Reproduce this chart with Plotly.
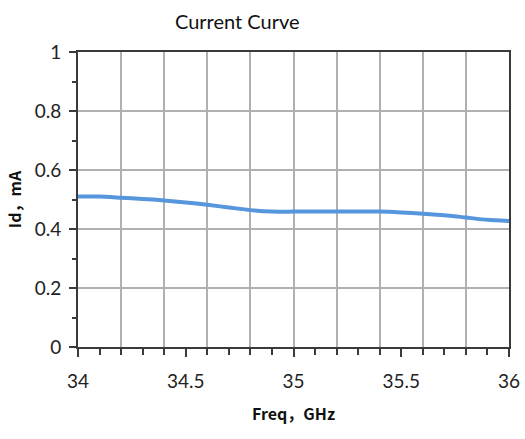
import plotly.graph_objects as go

freq = [34.0, 34.1, 34.2, 34.3, 34.4, 34.5, 34.6, 34.7, 34.8, 34.9, 35.0,
        35.1, 35.2, 35.3, 35.4, 35.5, 35.6, 35.7, 35.8, 35.9, 36.0]
current = [0.510, 0.510, 0.506, 0.502, 0.497, 0.490, 0.482, 0.473, 0.464, 0.459, 0.459,
           0.459, 0.459, 0.459, 0.459, 0.456, 0.452, 0.447, 0.439, 0.431, 0.427]
x_ticks = [34, 34.5, 35, 35.5, 36]
x_labels = ["34", "34.5", "35", "35.5", "36"]
y_ticks = [0, 0.2, 0.4, 0.6, 0.8, 1]
y_labels = ["0", "0.2", "0.4", "0.6", "0.8", "1"]

fig = go.Figure()
fig.add_trace(go.Scatter(x=freq, y=current, mode="lines",
                         line=dict(color="#5596dc", width=4, shape="spline", smoothing=0.6),
                         showlegend=False, hoverinfo="skip"))
# invisible trace for grid axis
fig.add_trace(go.Scatter(x=[34, 36], y=[0, 1], xaxis="x2", mode="markers",
                         marker=dict(opacity=0), showlegend=False, hoverinfo="skip"))

grid_col = "#b0b0b0"
fig.update_layout(
    width=525, height=439,
    margin=dict(l=78, r=16, t=52, b=92),
    paper_bgcolor="white", plot_bgcolor="white",
    title=dict(text="Current Curve", x=0.452, xanchor="center", y=0.95, yanchor="middle",
               font=dict(family="Lato, Open Sans, sans-serif", size=20, color="#111")),
    xaxis=dict(range=[34, 36], tickvals=x_ticks, ticktext=x_labels, showgrid=False,
               automargin=False,
               zeroline=False, showline=True, linecolor="#3a3a3a", linewidth=2, mirror=True,
               ticks="outside", ticklen=8, tickwidth=1.5, tickcolor="#3a3a3a",
               ticklabelstandoff=8, ticklabeloverflow="allow",
               minor=dict(dtick=0.1, tick0=34, ticks="outside", ticklen=6, tickwidth=1.5,
                          tickcolor="#3a3a3a", showgrid=False),
               tickfont=dict(family="Lato, Open Sans, sans-serif", size=19, color="#222"),
               title=dict(text="<b>Freq，GHz</b>", standoff=18,
                          font=dict(family="Noto Sans CJK SC, sans-serif", size=16, color="#111"))),
    xaxis2=dict(range=[34, 36], overlaying="x", dtick=0.2, tick0=34, showgrid=True,
                automargin=False,
                gridcolor=grid_col, gridwidth=1.5, showticklabels=False, ticks="",
                zeroline=False, showline=False, layer="below traces"),
    yaxis=dict(range=[0, 1], tickvals=y_ticks, ticktext=y_labels, showgrid=True,
               automargin=False,
               gridcolor=grid_col, gridwidth=1.5, zeroline=False,
               showline=True, linecolor="#3a3a3a", linewidth=2, mirror=True,
               ticks="outside", ticklen=7, tickwidth=1.5, tickcolor="#3a3a3a",
               ticklabelstandoff=4,
               minor=dict(dtick=0.1, tick0=0, ticks="outside", ticklen=4, tickwidth=1.5,
                          tickcolor="#3a3a3a", showgrid=False),
               tickfont=dict(family="Lato, Open Sans, sans-serif", size=19, color="#222"),
               title=dict(text="<b>Id，mA</b>", standoff=9,
                          font=dict(family="Noto Sans CJK SC, sans-serif", size=16, color="#111"))),
)
fig.write_html("out.html", config={"displayModeBar": False},
               post_script="document.body.style.margin='0';document.body.style.padding='0';")
